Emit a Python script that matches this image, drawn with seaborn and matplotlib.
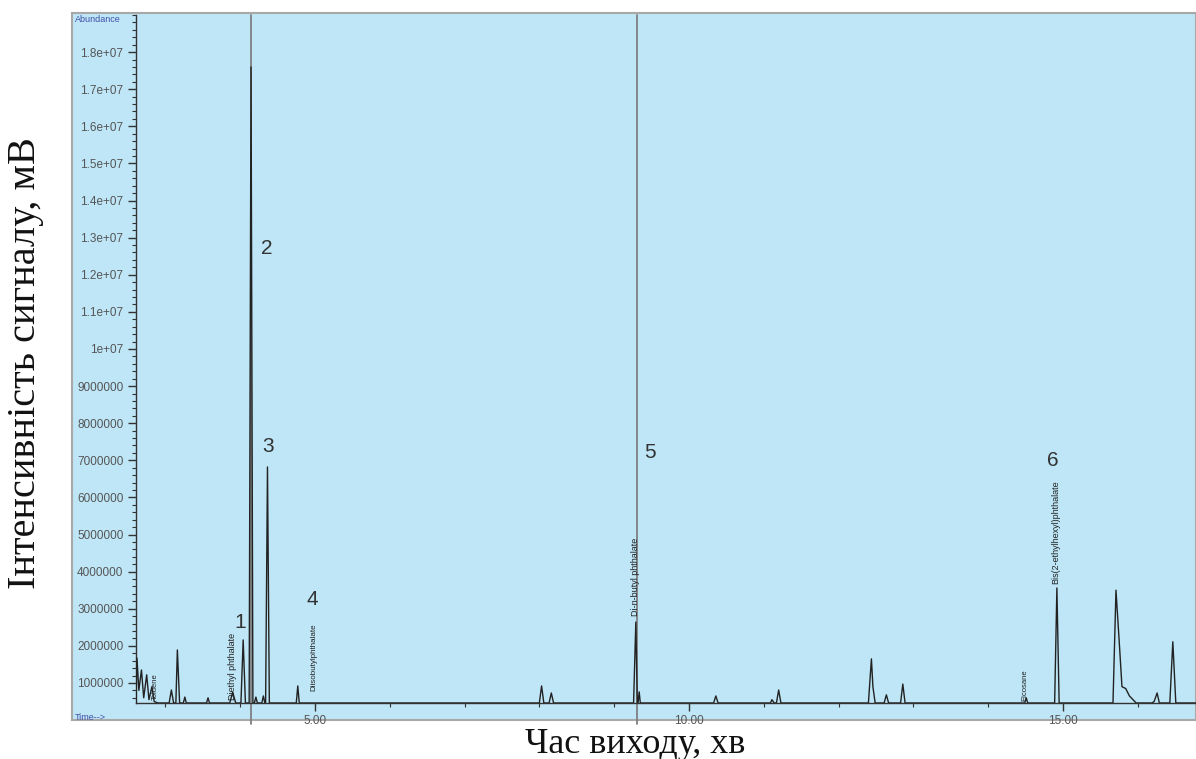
import matplotlib
matplotlib.use("Agg")
import matplotlib.pyplot as plt
import seaborn as sns
import pandas as pd
from matplotlib.ticker import MultipleLocator, FixedLocator, FuncFormatter

# chromatogram trace, points (time in min, abundance)
rt = [2.607, 2.62, 2.645, 2.68, 2.71, 2.75, 2.78, 2.82, 2.85, 2.90,
      3.05, 3.08, 3.11, 3.14, 3.16, 3.19, 3.24, 3.26, 3.28, 3.55, 3.57, 3.59,
      3.86, 3.90, 3.94, 4.01, 4.04, 4.07, 4.12, 4.145, 4.17, 4.19, 4.21, 4.23,
      4.29, 4.31, 4.33, 4.34, 4.365, 4.39, 4.75, 4.77, 4.79,
      8.00, 8.03, 8.06, 8.13, 8.16, 8.19, 9.26, 9.29, 9.31, 9.32, 9.335, 9.35,
      10.33, 10.36, 10.39, 11.09, 11.11, 11.14, 11.17, 11.20, 11.23,
      12.40, 12.44, 12.46, 12.49, 12.61, 12.64, 12.67, 12.83, 12.86, 12.89,
      14.49, 14.51, 14.53, 14.89, 14.92, 14.95,
      15.67, 15.71, 15.76, 15.79, 15.84, 15.89, 15.98,
      16.19, 16.22, 16.26, 16.29, 16.43, 16.47, 16.51, 16.78]
abundance = [0.46e6, 1.67e6, 0.8e6, 1.35e6, 0.6e6, 1.22e6, 0.55e6, 0.9e6, 0.5e6, 0.46e6,
             0.46e6, 0.81e6, 0.46e6, 0.46e6, 1.89e6, 0.46e6, 0.46e6, 0.62e6, 0.46e6, 0.46e6, 0.6e6, 0.46e6,
             0.46e6, 0.75e6, 0.46e6, 0.46e6, 2.16e6, 0.46e6, 0.46e6, 17.6e6, 0.46e6, 0.46e6, 0.62e6, 0.46e6,
             0.46e6, 0.65e6, 0.46e6, 0.46e6, 6.82e6, 0.46e6, 0.46e6, 0.92e6, 0.46e6,
             0.46e6, 0.92e6, 0.46e6, 0.46e6, 0.73e6, 0.46e6, 0.46e6, 2.64e6, 0.46e6, 0.46e6, 0.76e6, 0.46e6,
             0.46e6, 0.65e6, 0.46e6, 0.46e6, 0.55e6, 0.46e6, 0.46e6, 0.81e6, 0.46e6,
             0.46e6, 1.65e6, 0.9e6, 0.46e6, 0.46e6, 0.68e6, 0.46e6, 0.46e6, 0.97e6, 0.46e6,
             0.46e6, 0.6e6, 0.46e6, 0.46e6, 3.56e6, 0.46e6,
             0.46e6, 3.5e6, 1.9e6, 0.9e6, 0.85e6, 0.65e6, 0.46e6,
             0.46e6, 0.5e6, 0.73e6, 0.46e6, 0.46e6, 2.11e6, 0.46e6, 0.46e6]

# numbered peaks (label position)
peak_num = ["1", "2", "3", "4", "5", "6"]
peak_num_rt = [4.00, 4.35, 4.37, 4.97, 9.48, 14.87]
peak_num_y = [2.64e6, 12.72e6, 7.36e6, 3.24e6, 7.22e6, 7.0e6]

# compound names written over the peaks
comp_name = ["Toluene", "Diethyl phthalate", "Diisobutylphthalate", "Di-n-butyl phthalate",
             "Bis(2-ethylhexyl)phthalate", "Eicosane"]
comp_rt = [2.86, 3.90, 4.98, 9.29, 14.91, 14.49]
comp_y = [0.54e6, 0.54e6, 0.78e6, 2.8e6, 3.66e6, 0.52e6]
comp_size = [5.5, 6.5, 5.8, 6.5, 6.5, 5.5]

# off-scale marker lines
marker_rt = [4.145, 9.305]

# y axis major ticks
ytick_values = [i * 1e6 for i in range(1, 19)]

sns.set_theme(style="white")
plt.rcParams['font.family'] = ['Liberation Sans', 'DejaVu Sans']

df = pd.DataFrame({"rt": rt, "abundance": abundance})

fig = plt.figure(figsize=(11.96, 7.59), dpi=100)
fig.patch.set_facecolor("white")

# light blue instrument panel behind the plot
bg = fig.add_axes([72 / 1196, 39 / 759, 1 - 72 / 1196, 707 / 759], zorder=0)
bg.set_facecolor("#bee6f7")
bg.set_xticks([])
bg.set_yticks([])
for s in bg.spines.values():
    s.set_color("#a8a8a8")
    s.set_linewidth(1.5)

ax = fig.add_axes([136 / 1196, 56 / 759, 1 - 136 / 1196, 688 / 759], zorder=1)
ax.set_facecolor("none")

for m in marker_rt:
    ax.axvline(m, ymin=-0.03, ymax=1, color="#808080", lw=1.3, clip_on=False, zorder=1)

sns.lineplot(data=df, x="rt", y="abundance", ax=ax, color="#222222", lw=1.0,
             estimator=None, sort=False, zorder=3)

ax.set_xlim(2.607, 16.78)
ax.set_ylim(0.46e6, 1.9e7)

for s in ["top", "right"]:
    ax.spines[s].set_visible(False)
for s in ["left", "bottom"]:
    ax.spines[s].set_color("#333333")
    ax.spines[s].set_linewidth(1.0)

ax.xaxis.set_major_locator(FixedLocator([5, 10, 15]))
ax.xaxis.set_minor_locator(MultipleLocator(1))
ax.xaxis.set_major_formatter(FuncFormatter(lambda v, p: f"{v:.2f}"))
ax.yaxis.set_major_locator(FixedLocator(ytick_values))
ax.yaxis.set_minor_locator(MultipleLocator(2e5))
ax.yaxis.set_major_formatter(FuncFormatter(
    lambda v, p: f"{v:.2g}" if v >= 1e7 else f"{int(round(v))}"))

ax.tick_params(axis="both", which="major", direction="out", length=6, width=1,
               color="#333333", labelsize=8.5, labelcolor="#555555", pad=3,
               bottom=True, left=True)
ax.tick_params(axis="both", which="minor", direction="out", length=3, width=0.8,
               color="#333333", bottom=True, left=True)
ax.set_xlabel("")
ax.set_ylabel("")

for lab, x, y in zip(peak_num, peak_num_rt, peak_num_y):
    ax.text(x, y, lab, fontsize=15, color="#333333", ha="center", va="center", zorder=4)

for lab, x, y, fs in zip(comp_name, comp_rt, comp_y, comp_size):
    ax.text(x, y, lab, fontsize=fs, color="#222222", rotation=90,
            ha="center", va="bottom", zorder=4)

fig.text(75 / 1196, 1 - 19 / 759, "Abundance", fontsize=6.5, color="#4050a8",
         ha="left", va="center", zorder=5)
fig.text(75 / 1196, 1 - 718 / 759, "Time-->", fontsize=6.5, color="#4050a8",
         ha="left", va="center", zorder=5)

fig.text(26 / 1196, 1 - 363 / 759, "Інтенсивність сигналу, мВ", rotation=90,
         fontsize=29, family=["Liberation Serif", "DejaVu Serif"],
         color="#111111", ha="center", va="center")
fig.text(635 / 1196, 1 - 753 / 759, "Час виходу, хв", fontsize=26,
         family=["Liberation Serif", "DejaVu Serif"], color="#111111",
         ha="center", va="baseline")

fig.savefig("out.png", dpi=100)
